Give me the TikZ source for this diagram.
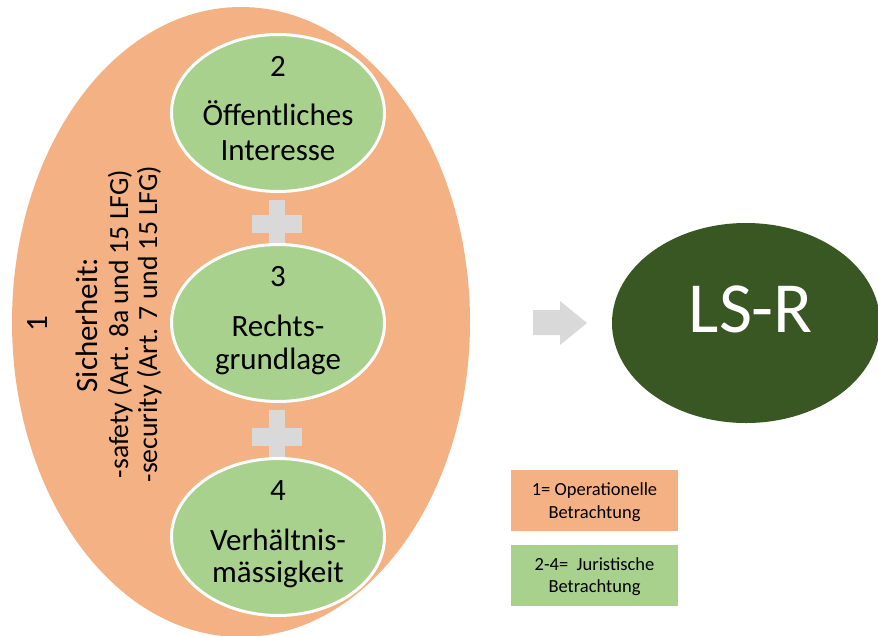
\documentclass[tikz,border=0pt]{standalone}
\usepackage{fontspec}
\setmainfont{Carlito}
\usetikzlibrary{shapes.geometric}
\definecolor{orangefill}{HTML}{F4B183}
\definecolor{greenfill}{HTML}{A9D18E}
\definecolor{plusgray}{HTML}{D9D9D9}
\definecolor{darkgreen}{HTML}{385723}
\tikzset{
  outerell/.style={ellipse, fill=orangefill, inner sep=0pt, minimum width=458pt, minimum height=630pt},
  greenell/.style={ellipse, fill=greenfill, draw=white, line width=3pt, inner sep=0pt, minimum width=213pt, minimum height=157pt},
  bigtxt/.style={font=\fontsize{31}{35}\selectfont, text=black, anchor=base, inner sep=0pt},
  midtxt/.style={font=\fontsize{27.7}{30}\selectfont, text=black, anchor=base, inner sep=0pt},
  legtxt/.style={font=\fontsize{18.5}{23}\selectfont, text=black, anchor=base, inner sep=0pt},
  legbox/.style={inner sep=0pt, minimum width=167pt, minimum height=61pt},
  plusbar/.style={fill=plusgray}
}
\begin{document}
\begin{tikzpicture}[x=1pt,y=-1pt]
\useasboundingbox (0,0) rectangle (878,635);
\clip (0,0) rectangle (878,635);
% outer orange ellipse
\node[outerell] (outer) at (241,322) {};
% plus signs
\fill[plusbar] (252,215) rectangle (302,233);
\fill[plusbar] (269,200) rectangle (285,250);
\fill[plusbar] (252,428) rectangle (302,446);
\fill[plusbar] (269,410) rectangle (285,462);
% green ellipses
\node[greenell] (e2) at (278,113) {};
\node[greenell] (e3) at (278,323) {};
\node[greenell] (e4) at (278,537) {};
\node[bigtxt] (n2) at ([yshift=37pt]e2.center) {2};
\node[bigtxt] (t2a) at ([yshift=-12pt]e2.center) {Öffentliches};
\node[bigtxt] (t2b) at ([yshift=-47pt]e2.center) {Interesse};
\node[bigtxt] (n3) at ([yshift=37pt]e3.center) {3};
\node[bigtxt] (t3a) at ([yshift=-13pt]e3.center) {Rechts-};
\node[bigtxt] (t3b) at ([yshift=-46pt]e3.center) {grundlage};
\node[bigtxt] (n4) at ([yshift=37pt]e4.center) {4};
\node[bigtxt] (t4a) at ([yshift=-13pt]e4.center) {Verhältnis-};
\node[bigtxt] (t4b) at ([yshift=-45pt]e4.center) {mässigkeit};
% rotated text
\node[bigtxt, rotate=90] (n1) at (47,324) {1};
\node[bigtxt, rotate=90] (s1) at (97,325) {Sicherheit:};
\node[midtxt, rotate=90] (s2) at (128,324) {-safety (Art. 8a und 15 LFG)};
\node[midtxt, rotate=90] (s3) at (157,324) {-security (Art. 7 und 15 LFG)};
% block arrow
\fill[plusgray] (533,310) -- (560,310) -- (560,301) -- (587,323) -- (560,345) -- (560,335) -- (533,335) -- cycle;
% LS-R
\node[ellipse, fill=darkgreen, inner sep=0pt, minimum width=268pt, minimum height=200pt] (lsr) at (746,323) {};
\node[font=\fontsize{72}{80}\selectfont, text=white, anchor=base, inner sep=0pt] (lsrt) at (751,332) {LS-R};
% legend
\node[legbox, fill=orangefill] (leg1) at (594.5,500.5) {};
\node[legtxt] (l1a) at (594.5,495) {1= Operationelle};
\node[legtxt] (l1b) at (594.5,518) {Betrachtung};
\node[legbox, fill=greenfill] (leg2) at (594.5,575.5) {};
\node[legtxt] (l2a) at (594.5,570) {2-4=\ \ Juristische};
\node[legtxt] (l2b) at (594.5,592) {Betrachtung};
\end{tikzpicture}
\end{document}
